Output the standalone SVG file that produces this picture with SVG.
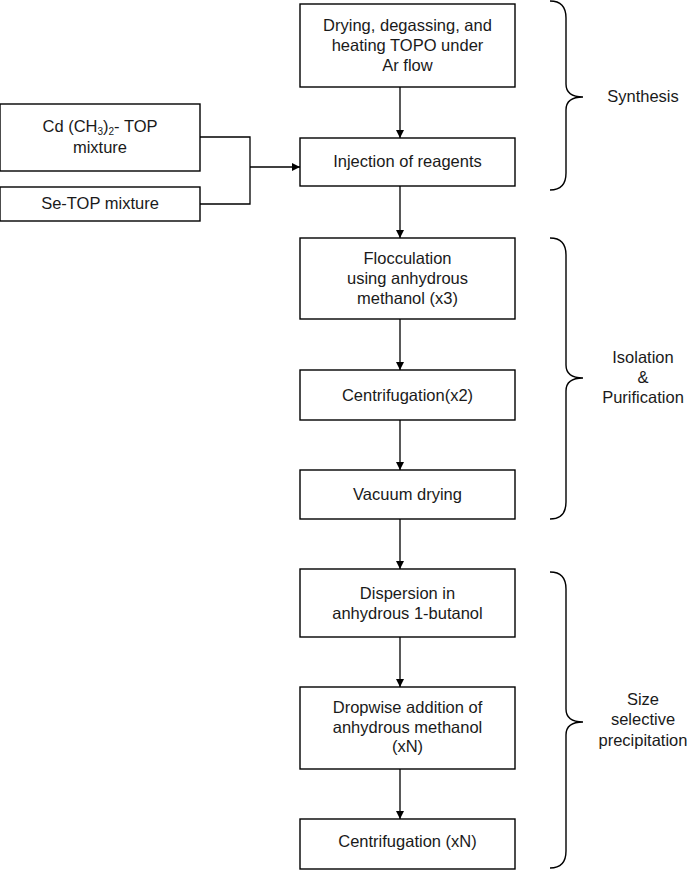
<svg xmlns="http://www.w3.org/2000/svg" width="688" height="870" viewBox="0 0 688 870">
<style>
.box{fill:#fff;stroke:#000;stroke-width:1.4}
.t{font-family:"Liberation Sans",Arial,sans-serif;font-size:16.5px;fill:#1a1a1a;text-anchor:middle}
.c{fill:none;stroke:#000;stroke-width:1.3}
.br{fill:none;stroke:#000;stroke-width:1.4}
</style>
<defs>
<marker id="ah" viewBox="0 0 10 10" refX="10" refY="5" markerWidth="8" markerHeight="8" markerUnits="userSpaceOnUse" orient="auto">
<path d="M0,0 L10,5 L0,10 Z" fill="#000"/>
</marker>
</defs>
<rect width="688" height="870" fill="#fff"/>

<g id="connectors">
<line class="c" x1="400" y1="87" x2="400" y2="138" marker-end="url(#ah)"/>
<line class="c" x1="400" y1="186" x2="400" y2="238" marker-end="url(#ah)"/>
<line class="c" x1="400" y1="319" x2="400" y2="370" marker-end="url(#ah)"/>
<line class="c" x1="400" y1="420" x2="400" y2="470" marker-end="url(#ah)"/>
<line class="c" x1="400" y1="519" x2="400" y2="569" marker-end="url(#ah)"/>
<line class="c" x1="400" y1="637" x2="400" y2="687" marker-end="url(#ah)"/>
<line class="c" x1="400" y1="769" x2="400" y2="819" marker-end="url(#ah)"/>
<polyline class="c" points="200,137 250,137 250,204 200,204"/>
<line class="c" x1="250" y1="167" x2="300" y2="167" marker-end="url(#ah)"/>
</g>

<g id="n1"><rect class="box" x="300" y="4" width="215" height="83"/>
<text class="t" x="407.5" y="31">Drying, degassing, and</text>
<text class="t" x="407.5" y="51">heating TOPO under</text>
<text class="t" x="407.5" y="71">Ar flow</text></g>

<g id="n2"><rect class="box" x="300" y="138" width="215" height="48"/>
<text class="t" x="407.5" y="167">Injection of reagents</text></g>

<g id="cd"><rect class="box" x="0" y="104" width="200" height="67"/>
<text class="t" x="100" y="132">Cd (CH<tspan font-size="10" dy="3">3</tspan><tspan dy="-3">)</tspan><tspan font-size="10" dy="3">2</tspan><tspan dy="-3">- TOP</tspan></text>
<text class="t" x="100" y="153">mixture</text></g>

<g id="se"><rect class="box" x="0" y="187" width="200" height="34"/>
<text class="t" x="100" y="209">Se-TOP mixture</text></g>

<g id="n3"><rect class="box" x="300" y="238" width="215" height="81"/>
<text class="t" x="407.5" y="264">Flocculation</text>
<text class="t" x="407.5" y="284">using anhydrous</text>
<text class="t" x="407.5" y="304">methanol (x3)</text></g>

<g id="n4"><rect class="box" x="300" y="370" width="215" height="50"/>
<text class="t" x="407.5" y="401">Centrifugation(x2)</text></g>

<g id="n5"><rect class="box" x="300" y="470" width="215" height="49"/>
<text class="t" x="407.5" y="500">Vacuum drying</text></g>

<g id="n6"><rect class="box" x="300" y="569" width="215" height="68"/>
<text class="t" x="407.5" y="599">Dispersion in</text>
<text class="t" x="407.5" y="619">anhydrous 1-butanol</text></g>

<g id="n7"><rect class="box" x="300" y="687" width="215" height="82"/>
<text class="t" x="407.5" y="713">Dropwise addition of</text>
<text class="t" x="407.5" y="733">anhydrous methanol</text>
<text class="t" x="407.5" y="752">(xN)</text></g>

<g id="n8"><rect class="box" x="300" y="819" width="215" height="50"/>
<text class="t" x="407.5" y="847">Centrifugation (xN)</text></g>

<g id="brace1">
<path class="br" d="M550,1 Q566,1 566,18 L566,84 Q566,97 583,97 Q566,97 566,110 L566,173 Q566,190 550,190"/>
<text class="t" x="643" y="102">Synthesis</text></g>

<g id="brace2">
<path class="br" d="M550,238 Q566,238 566,255 L566,365 Q566,378 583,378 Q566,378 566,391 L566,502 Q566,519 550,519"/>
<text class="t" x="643" y="363">Isolation</text>
<text class="t" x="643" y="383">&amp;</text>
<text class="t" x="643" y="403">Purification</text></g>

<g id="brace3">
<path class="br" d="M550,572 Q566,572 566,589 L566,709 Q566,722 583,722 Q566,722 566,735 L566,851 Q566,868 550,868"/>
<text class="t" x="643" y="705">Size</text>
<text class="t" x="643" y="725">selective</text>
<text class="t" x="643" y="746">precipitation</text></g>
</svg>
